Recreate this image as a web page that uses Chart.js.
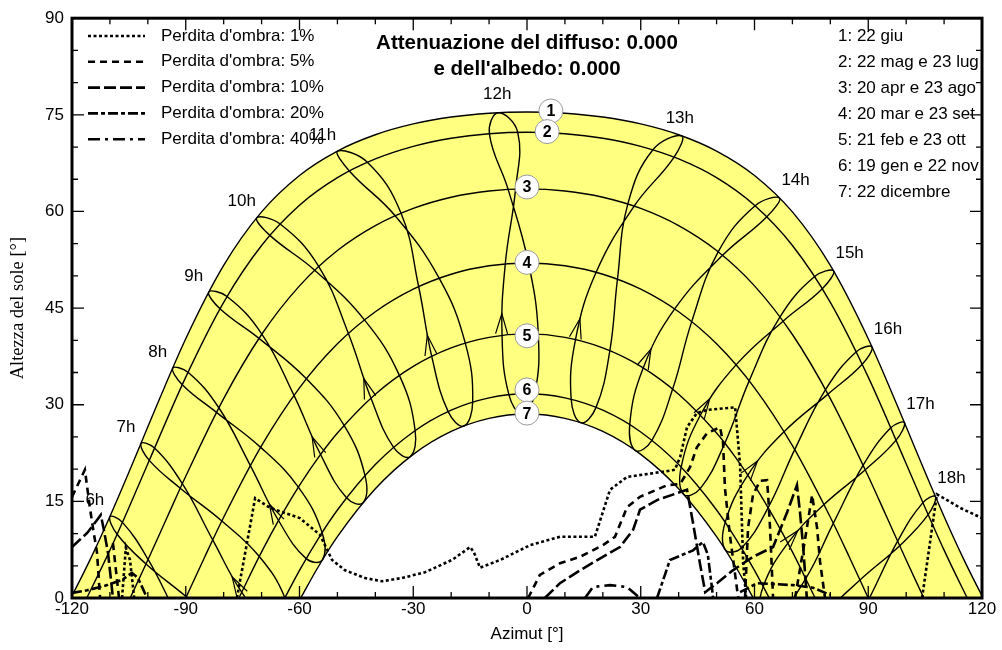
<!DOCTYPE html>
<html><head><meta charset="utf-8">
<script src="https://cdn.jsdelivr.net/npm/chart.js@4.4.1/dist/chart.umd.min.js"></script>
<style>html,body{margin:0;padding:0;background:#fff}</style>
</head><body>
<canvas id="c" width="1002" height="650"></canvas>
<script>
// ---------------- DATA ----------------
const xTicks = [-120, -90, -60, -30, 0, 30, 60, 90, 120];
const yTicks = [0, 15, 30, 45, 60, 75, 90];
const titleLines = ["Attenuazione del diffuso: 0.000", "e dell'albedo: 0.000"];
const dateLabels = ["1: 22 giu", "2: 22 mag e 23 lug", "3: 20 apr e 23 ago", "4: 20 mar e 23 set",
                    "5: 21 feb e 23 ott", "6: 19 gen e 22 nov", "7: 22 dicembre"];
const lossLabels = ["Perdita d'ombra: 1%", "Perdita d'ombra: 5%", "Perdita d'ombra: 10%",
                    "Perdita d'ombra: 20%", "Perdita d'ombra: 40%"];
const hourLabels = ["6h","7h","8h","9h","10h","11h","12h","13h","14h","15h","16h","17h","18h"];
const circleNumbers = ["1","2","3","4","5","6","7"];
const circleAz  = [6.3, 5.3, 0, 0, 0, 0, 0];
const circleAlt = [75.6, 72.4, 63.8, 52.1, 40.7, 32.3, 28.7];

// sun paths [azimut, altezza]
const path1 = [[-120.32,0],[-120,0.35],[-115,6.23],[-110,12.65],[-105,19.51],[-100,26.57],[-90,40.25],[-80,51.63],[-70,59.93],[-60,65.59],[-50,69.38],[-40,71.91],[-30,73.59],[-20,74.66],[-10,75.25],[0,75.44],[10,75.25],[20,74.66],[30,73.59],[40,71.91],[50,69.38],[60,65.59],[70,59.93],[80,51.63],[90,40.25],[100,26.57],[105,19.51],[110,12.65],[115,6.23],[120,0.35],[120.32,0]];
const path2 = [[-116.12,0],[-115,1.31],[-110,7.43],[-105,14.01],[-100,20.84],[-90,34.29],[-80,45.90],[-70,54.71],[-60,60.95],[-50,65.24],[-40,68.15],[-30,70.11],[-20,71.37],[-10,72.07],[0,72.3],[10,72.07],[20,71.37],[30,70.11],[40,68.15],[50,65.24],[60,60.95],[70,54.71],[80,45.90],[90,34.29],[100,20.84],[105,14.01],[110,7.43],[115,1.31],[116.12,0]];
const path3 = [[-104.66,0],[-100,5.90],[-95,12.41],[-90,18.90],[-80,30.96],[-70,40.90],[-60,48.45],[-50,53.93],[-40,57.80],[-30,60.47],[-20,62.21],[-10,63.18],[0,63.5],[10,63.18],[20,62.21],[30,60.47],[40,57.80],[50,53.93],[60,48.45],[70,40.90],[80,30.96],[90,18.90],[95,12.41],[100,5.90],[104.66,0]];
const path4 = [[-90,0],[-85,6.37],[-80,12.53],[-70,23.64],[-60,32.62],[-50,39.45],[-40,44.43],[-30,47.94],[-20,50.26],[-10,51.57],[0,52.0],[10,51.57],[20,50.26],[30,47.94],[40,44.43],[50,39.45],[60,32.62],[70,23.64],[80,12.53],[85,6.37],[90,0]];
const path5 = [[-75.99,0],[-70,7.15],[-65,12.58],[-60,17.49],[-55,21.82],[-50,25.60],[-40,31.64],[-30,35.96],[-20,38.83],[-10,40.46],[0,41.0],[10,40.46],[20,38.83],[30,35.96],[40,31.64],[50,25.60],[55,21.82],[60,17.49],[65,12.58],[70,7.15],[75.99,0]];
const path6 = [[-63.88,0],[-60,4.29],[-55,9.27],[-50,13.66],[-40,20.71],[-30,25.77],[-20,29.15],[-10,31.07],[0,31.7],[10,31.07],[20,29.15],[30,25.77],[40,20.71],[50,13.66],[55,9.27],[60,4.29],[63.88,0]];
const path7 = [[-59.68,0],[-55,4.89],[-50,9.52],[-40,16.95],[-30,22.29],[-20,25.86],[-10,27.89],[0,28.56],[10,27.89],[20,25.86],[30,22.29],[40,16.95],[50,9.52],[55,4.89],[59.68,0]];

// sun position at 6h..18h on each date [azimut, altezza]
const dec22 = [[-71.81,-15.09],[-63.31,-4.17],[-53.95,5.92],[-43.25,14.79],[-30.84,21.93],[-16.67,26.70],[-1.27,28.55],[14.23,27.21],[28.64,22.88],[41.35,16.09],[52.31,7.46],[61.86,-2.46],[70.47,-13.27]];
const jan19 = [[-76.20,-15.64],[-67.58,-4.41],[-58.24,6.11],[-47.60,15.55],[-35.19,23.37],[-20.79,28.93],[-4.78,31.56],[11.65,30.85],[27.09,26.91],[40.66,20.31],[52.27,11.74],[62.30,1.79],[71.27,-9.07]];
const feb21 = [[-84.34,-10.71],[-75.25,0.91],[-65.53,12.03],[-54.44,22.27],[-41.17,31.04],[-25.13,37.52],[-6.58,40.77],[12.79,40.12],[30.65,35.72],[45.75,28.40],[58.23,19.09],[68.80,8.51],[78.23,-2.81]];
const mar20 = [[-92.18,-2.79],[-82.89,9.01],[-72.96,20.56],[-61.45,31.45],[-47.11,41.06],[-28.58,48.35],[-5.73,51.86],[18.23,50.56],[38.95,44.87],[55.13,36.19],[67.80,25.81],[78.33,14.51],[87.82,2.79]];
const apr20 = [[-99.93,5.99],[-90.90,17.74],[-81.28,29.53],[-69.93,40.97],[-54.94,51.47],[-33.21,59.73],[-3.01,63.50],[28.28,60.85],[51.58,53.19],[67.54,42.97],[79.38,31.65],[89.22,19.90],[98.29,8.12]];
const may22 = [[-106.70,11.74],[-98.24,23.27],[-89.41,35.05],[-79.12,46.80],[-65.11,58.05],[-42.11,67.65],[-2.44,72.28],[38.80,68.45],[63.26,59.17],[77.88,48.02],[88.42,36.29],[97.34,24.50],[105.80,12.93]];
const jun22 = [[-110.02,12.62],[-101.82,23.98],[-93.46,35.68],[-83.95,47.50],[-71.28,59.03],[-49.97,69.37],[-7.60,75.32],[40.83,71.74],[66.61,62.09],[80.87,50.76],[90.98,38.97],[99.54,27.22],[107.71,15.74]];
const jul23 = [[-108.10,9.89],[-99.62,21.36],[-90.91,33.12],[-80.97,44.90],[-67.81,56.29],[-46.86,66.29],[-9.92,72.08],[33.21,69.58],[60.16,60.89],[75.86,49.90],[86.85,38.22],[95.94,26.42],[104.42,14.80]];
const aug23 = [[-100.48,5.29],[-91.45,17.04],[-81.89,28.82],[-70.69,40.30],[-55.99,50.87],[-34.78,59.34],[-4.98,63.43],[26.60,61.17],[50.42,53.73],[66.73,43.64],[78.74,32.35],[88.66,20.62],[97.75,8.82]];
const sep23 = [[-89.85,0.19],[-80.48,11.95],[-70.25,23.38],[-58.17,34.03],[-42.88,43.17],[-23.17,49.64],[0.39,52.00],[23.86,49.49],[43.44,42.90],[58.60,33.70],[70.60,23.03],[80.78,11.58],[90.15,-0.19]];
const oct23 = [[-79.91,-4.97],[-70.60,6.45],[-60.30,17.20],[-48.24,26.80],[-33.66,34.56],[-16.28,39.57],[2.98,40.95],[21.85,38.39],[38.41,32.43],[52.17,24.03],[63.60,14.02],[73.51,3.02],[82.67,-8.53]];
const nov22 = [[-72.70,-10.95],[-63.85,0.03],[-54.04,10.15],[-42.72,19.00],[-29.50,25.97],[-14.33,30.40],[2.03,31.68],[18.21,29.59],[32.93,24.48],[45.67,16.97],[56.57,7.78],[66.09,-2.60],[74.79,-13.73]];

// shading-loss profiles (segments of [azimut, altezza])
const loss1 = [
  [[-76.5,0],[-71.7,15.5],[-67.8,14.0],[-59.9,12.4],[-54.6,9.8],[-51.4,5.9],[-48.0,4.3],[-42.7,3.1],[-38.2,2.6],[-33.0,3.1],[-26.9,4.0],[-19.8,5.9],[-15.0,7.9],[-14.0,7.1],[-12.4,4.7],[-7.1,5.9],[0.8,8.2],[8.7,9.5],[17.9,9.5],[21.9,16.8],[26.4,18.8],[35.9,19.6],[39.0,19.9],[40.4,21.9],[42.2,26.5],[44.8,28.7],[47.5,29.2],[54.9,29.6],[56.2,20.6],[57.0,5.6],[57.8,0]],
  [[104.2,0],[108.1,16.1],[110.8,15.2],[114.2,14.0],[120,12.4]],
  [[-106.8,0],[-105.8,7.8],[-104.7,5.9],[-103.6,0]]
];
const loss5 = [
  [[-120,15.7],[-116.6,19.9],[-115.3,14.1],[-114.5,11.0],[-113.4,7.0],[-112.6,0]],
  [[-109.2,8.5],[-107.6,0]],
  [[0.3,0],[3.4,3.6],[8.7,5.4],[14.0,6.4],[20.0,8.2],[23.2,9.5],[26.4,14.1],[29.8,15.7],[36.9,17.5],[40.4,17.7],[43.0,20.3],[44.8,23.4],[47.5,25.6],[50.9,26.5],[51.7,24.2],[52.2,17.1],[53.5,9.8],[54.9,3.6],[55.7,0]],
  [[57.5,0],[58.3,10.9],[59.6,16.0],[61.5,18.2],[63.3,18.3],[63.6,16.0],[64.1,10.9],[64.9,0]],
  [[70.7,0],[73.3,9.0],[75.2,16.0],[76.5,10.9],[77.3,5.6],[78.6,0]]
];
const loss10 = [
  [[-120,7.9],[-116.0,10.1],[-113.4,12.1],[-112.4,12.9],[-111.6,10.6],[-110.5,7.0],[-109.2,0]],
  [[4.7,0],[8.7,2.3],[14.0,4.3],[20.0,6.4],[24.5,7.9],[28.0,10.6],[29.8,13.7],[34.3,15.2],[42.2,16.8],[43.8,11.6],[45.6,5.4],[47.0,0.9],[50.1,2.3],[54.3,4.3],[59.6,6.4],[64.9,7.9],[68.6,13.3],[71.2,17.5],[72.0,13.3],[72.8,8.2],[73.8,0]]
];
const loss20 = [
  [[-120,0.8],[-116.0,1.2],[-110.7,2.0],[-106.8,2.8],[-104.2,3.9],[-102.6,3.1],[-100.2,0]],
  [[34.3,0],[37.7,5.9],[43.8,7.4],[46.4,8.7],[47.7,6.7],[49.1,0]],
  [[56.2,0.9],[60.7,2.3],[70.2,2.0],[75.4,1.6],[79.9,0.5]]
];
const loss40 = [
  [[15.3,0],[17.4,1.7],[21.9,2.0],[26.4,1.7],[29.8,0]]
];

// ---------------- STYLE ----------------
const FONT = "'Liberation Sans', Arial, sans-serif";
const SERIF = "'Liberation Serif', 'Times New Roman', serif";
const YELLOW = '#ffff80';
const lossDash = [[3,2.5],[7,5],[12,4],[10,3,4,3],[12,5,3,5]];

// ---------------- DATASETS ----------------
const toXY = arr => arr.map(([x, y]) => ({x, y}));
const mkLine = (arr, extra) => Object.assign({
  data: toXY(arr), showLine: true, pointRadius: 0, pointHoverRadius: 0,
  borderColor: '#000', borderWidth: 1.4, fill: false, tension: 0
}, extra);

const datasets = [];
datasets.push(mkLine(path1, {fill: 'origin', backgroundColor: YELLOW, order: 100, cubicInterpolationMode: 'monotone'}));
datasets.push(mkLine(path7, {fill: 'origin', backgroundColor: '#ffffff', order: 90, cubicInterpolationMode: 'monotone'}));
[path2, path3, path4, path5, path6].forEach(p =>
  datasets.push(mkLine(p, {order: 50, cubicInterpolationMode: 'monotone'})));

const dateRows = [dec22, jan19, feb21, mar20, apr20, may22, jun22, jul23, aug23, sep23, oct23, nov22];
hourLabels.forEach((lab, h) => {
  const pts = dateRows.map(r => r[h]);
  const ext = [pts[pts.length - 1], ...pts, pts[0], pts[1]];
  const last = ext.length - 2;
  datasets.push(mkLine(ext, {
    order: 40, tension: 0.42, hourIndex: h,
    segment: {borderColor: c => (c.p0DataIndex === 0 || c.p0DataIndex === last) ? 'rgba(0,0,0,0)' : undefined}
  }));
});

[loss1, loss5, loss10, loss20, loss40].forEach((segs, k) =>
  segs.forEach(s => datasets.push(mkLine(s, {order: 30, borderWidth: 2.6, borderDash: lossDash[k]}))));

datasets.push({
  data: circleAz.map((x, i) => ({x, y: circleAlt[i]})), showLine: false,
  pointRadius: 12, pointHoverRadius: 12, pointBackgroundColor: '#fff',
  pointBorderColor: '#9a9a9a', pointBorderWidth: 1, order: 0, clip: false, isCircles: true
});

// ---------------- PLUGIN ----------------
const deco = {
  id: 'deco',
  afterDatasetsDraw(chart) {
    const {ctx, chartArea: a} = chart;
    ctx.save();
    ctx.beginPath(); ctx.rect(a.left, a.top, a.right - a.left, a.bottom - a.top); ctx.clip();
    ctx.strokeStyle = '#000'; ctx.lineWidth = 1.2;
    chart.data.datasets.forEach((ds, i) => {
      if (ds.hourIndex === undefined) return;
      const pts = chart.getDatasetMeta(i).data;
      const p0 = pts[3], p1 = pts[4];
      const c1x = p0.cp2x ?? p0.x, c1y = p0.cp2y ?? p0.y;
      const c2x = p1.cp1x ?? p1.x, c2y = p1.cp1y ?? p1.y;
      const t = 0.28, m = 1 - t;
      const bx = m*m*m*p0.x + 3*m*m*t*c1x + 3*m*t*t*c2x + t*t*t*p1.x;
      const by = m*m*m*p0.y + 3*m*m*t*c1y + 3*m*t*t*c2y + t*t*t*p1.y;
      const dx = 3*m*m*(c1x - p0.x) + 6*m*t*(c2x - c1x) + 3*t*t*(p1.x - c2x);
      const dy = 3*m*m*(c1y - p0.y) + 6*m*t*(c2y - c1y) + 3*t*t*(p1.y - c2y);
      const len = Math.hypot(dx, dy) || 1;
      const ux = dx / len, uy = dy / len;
      if (by > a.bottom - 2 || bx < a.left || bx > a.right) return;
      const L = 20, W = 6;
      ctx.beginPath();
      ctx.moveTo(bx - L*ux - W*uy, by - L*uy + W*ux);
      ctx.lineTo(bx, by);
      ctx.lineTo(bx - L*ux + W*uy, by - L*uy - W*ux);
      ctx.stroke();
    });
    ctx.restore();
  },
  afterDraw(chart) {
    const {ctx, chartArea: a, scales: {x, y}} = chart;
    ctx.save();
    ctx.fillStyle = '#000'; ctx.strokeStyle = '#000';
    ctx.textBaseline = 'middle';

    // circle numbers
    chart.data.datasets.forEach((ds, i) => {
      if (!ds.isCircles) return;
      ctx.font = 'bold 16px ' + FONT; ctx.textAlign = 'center';
      chart.getDatasetMeta(i).data.forEach((p, k) => ctx.fillText(circleNumbers[k], p.x, p.y + 1));
    });

    // hour labels near the June point of each hour line
    ctx.font = '17px ' + FONT; ctx.textAlign = 'center';
    chart.data.datasets.forEach((ds, i) => {
      if (ds.hourIndex === undefined) return;
      const h = ds.hourIndex;
      const p = chart.getDatasetMeta(i).data[7];
      let ox = -15, oy = -16;
      if (h === 6) { ox = -1; oy = -18; }
      else if (h === 7) { ox = -2; oy = -18; }
      else if (h > 7) { ox = 16; oy = -18; }
      ctx.fillText(hourLabels[h], p.x + ox, p.y + oy);
    });

    // title
    ctx.font = 'bold 20.5px ' + FONT; ctx.textAlign = 'center';
    ctx.fillText(titleLines[0], 527, 43);
    ctx.fillText(titleLines[1], 527, 69);

    // loss legend
    ctx.font = '17px ' + FONT; ctx.textAlign = 'left';
    lossLabels.forEach((lab, i) => {
      const yy = 36 + i * 25.8;
      ctx.save();
      ctx.lineWidth = 2.6; ctx.setLineDash(lossDash[i]);
      ctx.beginPath(); ctx.moveTo(88, yy); ctx.lineTo(145, yy); ctx.stroke();
      ctx.restore();
      ctx.fillText(lab, 161, yy);
    });

    // dates legend (clipped by the frame)
    ctx.save();
    ctx.beginPath(); ctx.rect(a.left, a.top, a.right - a.left, a.bottom - a.top); ctx.clip();
    dateLabels.forEach((lab, i) => ctx.fillText(lab, 838, 36 + i * 26));
    ctx.restore();

    // axis titles
    ctx.font = '17px ' + FONT; ctx.textAlign = 'center';
    ctx.fillText('Azimut [°]', (a.left + a.right) / 2, 634);
    ctx.save();
    ctx.translate(18, (a.top + a.bottom) / 2);
    ctx.rotate(-Math.PI / 2);
    ctx.font = '18.5px ' + SERIF;
    ctx.fillText('Altezza del sole [°]', 0, 0);
    ctx.restore();

    // inward ticks
    ctx.lineWidth = 1.3;
    ctx.beginPath();
    for (let v = -120; v <= 120; v += 10) {
      const px = x.getPixelForValue(v), L = v % 30 === 0 ? 12 : 6;
      ctx.moveTo(px, a.bottom); ctx.lineTo(px, a.bottom - L);
      ctx.moveTo(px, a.top); ctx.lineTo(px, a.top + L);
    }
    for (let v = 0; v <= 90; v += 5) {
      const py = y.getPixelForValue(v), L = v % 15 === 0 ? 12 : 6;
      ctx.moveTo(a.left, py); ctx.lineTo(a.left + L, py);
      ctx.moveTo(a.right, py); ctx.lineTo(a.right - L, py);
    }
    ctx.stroke();

    // frame
    ctx.lineWidth = 3;
    ctx.strokeRect(a.left, a.top, a.right - a.left, a.bottom - a.top);
    ctx.restore();
  }
};

new Chart(document.getElementById('c'), {
  type: 'scatter',
  data: {datasets},
  options: {
    responsive: false, animation: false, devicePixelRatio: 1,
    layout: {padding: {top: 18, right: 20, left: 0, bottom: 0}},
    plugins: {legend: {display: false}, tooltip: {enabled: false}},
    events: [],
    elements: {line: {capBezierPoints: false}},
    scales: {
      x: {
        type: 'linear', min: -120, max: 120,
        afterFit: s => { s.height = 52; },
        afterBuildTicks: s => { s.ticks = xTicks.map(v => ({value: v})); },
        grid: {display: false, drawTicks: false}, border: {display: false},
        ticks: {autoSkip: false, maxRotation: 0, padding: 1, color: '#000',
                font: {family: FONT, size: 17}, callback: v => String(v)}
      },
      y: {
        type: 'linear', min: 0, max: 90,
        afterFit: s => { s.width = 72; },
        afterBuildTicks: s => { s.ticks = yTicks.map(v => ({value: v})); },
        grid: {display: false, drawTicks: false}, border: {display: false},
        ticks: {padding: 8, color: '#000', font: {family: FONT, size: 17}, callback: v => String(v)}
      }
    }
  },
  plugins: [deco]
});
</script>
</body></html>
